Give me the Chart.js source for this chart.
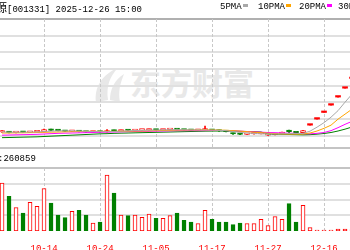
<!DOCTYPE html>
<html>
<head>
<meta charset="utf-8">
<script src="https://cdn.jsdelivr.net/npm/chart.js@4/dist/chart.umd.min.js"></script>
<style>
  body { margin: 0; background: #fff; }
  #wrap { position: relative; width: 350px; height: 250px; overflow: hidden; font-family: "Liberation Mono", monospace; font-size: 9px; color: #000; }
  .abs { position: absolute; white-space: nowrap; line-height: 12px; }
  .cjk { font-family: "Noto Sans CJK SC"; font-size: 11px; }
  .dash { display: inline-block; width: 5px; height: 3px; margin-left: 1px; vertical-align: 2px; }
  canvas { position: absolute; left: 0; }
</style>
</head>
<body>
<div id="wrap">
  <svg class="abs" style="left:92px;top:66px" width="34" height="40" viewBox="0 0 34 40">
    <path d="M4 36 C2 22 10 8 26 2 C18 10 14 20 16 34 Z" fill="#e8e8e8"/>
    <path d="M18 34 C18 24 22 14 32 8 C28 18 26 26 28 36 Z" fill="#e8e8e8"/>
  </svg>
  <div class="abs cjk" style="left:130px;top:62px;font-size:31px;font-weight:bold;color:#e8e8e8;line-height:40px;">东方财富</div>
  <canvas id="price" width="350" height="148" style="top:0"></canvas>
  <canvas id="vol" width="350" height="102" style="top:148px"></canvas>
  <div class="abs" style="left:-37px;top:1px;"><span class="cjk">胜通能源</span>[001331] 2025-12-26 15:00</div>
  <div class="abs" style="left:220px;top:1px;">5PMA<span class="dash" style="background:#a8a8a8"></span></div>
  <div class="abs" style="left:258px;top:1px;">10PMA<span class="dash" style="background:#ffa500"></span></div>
  <div class="abs" style="left:299px;top:1px;">20PMA<span class="dash" style="background:#ff00ff"></span></div>
  <div class="abs" style="left:338px;top:1px;">30PMA<span class="dash" style="background:#008000"></span></div>
  <div class="abs" style="left:0;top:147px;width:350px;height:2px;background:#c4c4c4"></div>
  <div class="abs" style="left:0;top:167px;width:350px;height:2px;background:#c4c4c4"></div>
  <div class="abs" style="left:-2px;top:153px;">:260859</div>
</div>
<script>
// trading days shown (index = candle slot)
const days = ['09-26','09-29','09-30','10-09','10-10','10-13','10-14','10-15','10-16','10-17',
  '10-20','10-21','10-22','10-23','10-24','10-27','10-28','10-29','10-30','10-31',
  '11-03','11-04','11-05','11-06','11-07','11-10','11-11','11-12','11-13','11-14',
  '11-17','11-18','11-19','11-20','11-21','11-24','11-25','11-26','11-27','11-28',
  '12-01','12-02','12-03','12-11','12-12','12-15','12-16','12-17','12-18','12-19','12-22'];
const tickIdx = [6, 14, 22, 30, 38, 46];
const priceGrid = [15, 20, 25, 30, 35, 40, 45, 50];
const volGrid = [100000, 200000, 300000];

const opens = [16.1,16.2,15.9,16.1,16.0,16.15,16.2,16.8,16.6,16.45,
  16.3,16.4,16.2,16.05,16.25,16.1,16.55,16.4,16.65,16.55,
  16.65,16.7,16.85,16.7,16.8,16.9,16.8,16.7,16.6,16.7,
  16.8,16.6,16.4,15.7,15.55,15.4,15.5,15.55,15.15,15.3,
  15.6,16.3,16.0,15.9,18.15,19.97,21.96,24.16,26.58,29.24,32.16];
const closes = [16.35,15.9,16.05,16.0,16.2,16.3,16.8,16.6,16.5,16.3,
  16.4,16.2,16.05,16.2,16.1,16.55,16.4,16.6,16.55,16.7,
  16.75,16.85,16.7,16.8,16.9,16.8,16.7,16.6,16.7,16.8,
  16.6,16.4,16.2,15.5,15.4,15.5,15.6,15.7,15.25,15.5,
  15.95,16.2,15.85,16.5,18.15,19.97,21.96,24.16,26.58,29.24,32.16];
const highs = [16.5,16.3,16.15,16.2,16.3,16.4,17.0,16.95,16.75,16.5,
  16.5,16.45,16.25,16.3,16.3,16.8,16.7,16.7,16.75,16.8,
  16.85,16.95,16.9,16.9,17.0,16.95,16.85,16.75,16.75,17.9,
  16.9,16.65,16.45,15.75,15.6,15.6,15.65,15.8,15.3,15.6,
  16.05,16.7,16.1,16.6,18.15,19.97,21.96,24.16,26.58,29.24,32.16];
const lows = [16.0,15.8,15.85,15.9,15.95,16.05,16.15,16.5,16.4,16.2,
  16.2,16.1,15.95,16.0,16.0,16.05,16.3,16.35,16.5,16.5,
  16.6,16.65,16.6,16.65,16.75,16.7,16.65,16.55,16.55,16.65,
  16.5,16.3,16.1,15.4,15.3,15.35,15.45,15.5,15.1,15.25,
  15.55,15.9,15.75,15.85,18.15,19.97,21.96,24.16,26.58,29.24,32.16];

const ma5 = [16.1,16.05,16.05,16.05,16.1,16.1,16.25,16.35,16.45,16.45,
  16.45,16.4,16.3,16.25,16.2,16.2,16.25,16.35,16.45,16.55,
  16.6,16.65,16.7,16.72,16.78,16.8,16.78,16.75,16.72,16.7,
  16.68,16.6,16.5,16.25,16.0,15.8,15.65,15.55,15.5,15.5,
  15.55,15.6,15.6,15.7,16.35,17.55,18.9,20.55,22.5,25.05,27.45];
const ma10 = [15.8,15.8,15.85,15.85,15.9,15.95,16.0,16.05,16.1,16.15,
  16.2,16.25,16.3,16.3,16.3,16.3,16.3,16.32,16.35,16.38,
  16.4,16.45,16.5,16.55,16.62,16.68,16.7,16.72,16.73,16.74,
  16.72,16.68,16.62,16.5,16.35,16.2,16.05,15.9,15.75,15.6,
  15.5,15.45,15.45,15.5,15.8,16.4,17.2,18.15,19.95,21.45,22.95];
const ma20 = [15.15,15.2,15.25,15.3,15.35,15.4,15.5,15.6,15.7,15.75,
  15.8,15.85,15.9,15.95,16.0,16.05,16.1,16.15,16.2,16.25,
  16.28,16.3,16.35,16.4,16.45,16.5,16.5,16.5,16.5,16.52,
  16.55,16.55,16.52,16.45,16.35,16.25,16.15,16.05,15.95,15.9,
  15.8,15.75,15.7,15.6,15.55,15.7,15.95,16.5,17.4,18.4,19.3];
const ma30 = [14.4,14.45,14.5,14.55,14.6,14.65,14.75,14.85,14.95,15.05,
  15.15,15.25,15.35,15.45,15.55,15.6,15.7,15.75,15.8,15.85,
  15.9,15.95,16.0,16.05,16.1,16.15,16.2,16.25,16.3,16.35,
  16.38,16.4,16.4,16.35,16.3,16.25,16.2,16.1,15.5,15.45,
  15.4,15.35,15.3,15.25,15.3,15.45,15.65,15.95,16.4,16.95,17.6];

const volumes = [304800,220300,148600,114300,182200,156800,269200,177800,101600,85100,
  125100,131400,101600,50800,57100,355600,241300,101600,97800,101600,
  87000,107900,80600,80600,97800,114300,67900,57100,47000,131400,
  74300,57100,57100,40600,50800,47000,47000,74300,34300,91400,
  74300,174000,57100,163200,21600,6400,6300,6500,12700,12700,9500];

const RED = '#ff0000', GREEN = '#008000';
const up = closes.map((c, i) => c >= opens[i]);
const flat = closes.map((c, i) => c === opens[i] && c === highs[i]);

// solid horizontal lines + dashed vertical lines, placed by the scales
const gridLines = {
  id: 'gridLines',
  beforeDatasetsDraw(chart, args, opts) {
    const { ctx, chartArea: a, scales: { x, y } } = chart;
    ctx.save();
    ctx.lineWidth = 2;
    opts.yValues.forEach(v => {
      const py = Math.round(y.getPixelForValue(v));
      ctx.strokeStyle = v === opts.topValue ? '#b0b0b0' : '#e0e0e0';
      ctx.beginPath(); ctx.moveTo(a.left, py); ctx.lineTo(a.right, py); ctx.stroke();
    });
    ctx.lineWidth = 1;
    ctx.strokeStyle = '#c8c8c8';
    ctx.setLineDash([3, 2]);
    tickIdx.forEach(v => {
      const px = Math.round(x.getPixelForValue(v)) + 0.5;
      ctx.beginPath(); ctx.moveTo(px, a.top); ctx.lineTo(px, a.bottom); ctx.stroke();
    });
    ctx.restore();
  }
};

const xScale = (showLabels) => ({
  type: 'linear', min: -0.29, max: 49.71, offset: false,
  afterBuildTicks: s => { s.ticks = tickIdx.map(v => ({ value: v })); },
  afterFit: s => { s.height = showLabels ? 19 : 0; s.paddingLeft = 0; s.paddingRight = 0; },
  grid: { display: false, offset: false },
  border: { display: false },
  ticks: {
    display: showLabels, autoSkip: false, maxRotation: 0, padding: 4,
    color: RED, font: { family: 'Liberation Mono', size: 9 },
    callback: v => days[v]
  }
});

new Chart(document.getElementById('price'), {
  type: 'bar',
  plugins: [gridLines],
  data: {
    datasets: [
      { type: 'line', data: ma5.map((v, i) => ({ x: i, y: v })), borderColor: '#a8a8a8', borderWidth: 1, pointRadius: 0, order: 0 },
      { type: 'line', data: ma10.map((v, i) => ({ x: i, y: v })), borderColor: '#ffa500', borderWidth: 1, pointRadius: 0, order: 0 },
      { type: 'line', data: ma20.map((v, i) => ({ x: i, y: v })), borderColor: '#ff00ff', borderWidth: 1, pointRadius: 0, order: 0 },
      { type: 'line', data: ma30.map((v, i) => ({ x: i, y: v })), borderColor: '#008000', borderWidth: 1, pointRadius: 0, order: 0 },
      { data: opens.map((o, i) => ({ x: i, y: [o, closes[i]] })), barThickness: 5, grouped: false, minBarLength: 1.5,
        backgroundColor: up.map((u, i) => flat[i] ? RED : (u ? '#ffffff' : GREEN)), borderColor: up.map(u => u ? RED : GREEN),
        borderWidth: flat.map(f => f ? 0 : 1), borderSkipped: false, order: 1 },
      { data: lows.map((l, i) => ({ x: i, y: [l, highs[i]] })), barThickness: 1, grouped: false,
        backgroundColor: up.map(u => u ? RED : GREEN), order: 2 }
    ]
  },
  options: {
    responsive: false, animation: false, devicePixelRatio: 1,
    layout: { padding: { top: 19, left: 0, right: 0, bottom: 0 }, autoPadding: false },
    plugins: { legend: { display: false }, tooltip: { enabled: false }, gridLines: { yValues: priceGrid, topValue: 50 } },
    scales: {
      x: xScale(false),
      y: {
        min: 11.3, max: 50,
        afterFit: s => { s.width = 0; },
        grid: { display: false },
        border: { display: false },
        ticks: { display: false }
      }
    }
  }
});

new Chart(document.getElementById('vol'), {
  type: 'bar',
  plugins: [gridLines],
  data: {
    datasets: [{
      data: volumes.map((v, i) => ({ x: i, y: v })), barThickness: 4, grouped: false,
      backgroundColor: up.map(u => u ? '#ffffff' : GREEN), borderColor: up.map(u => u ? RED : GREEN),
      borderWidth: 1, borderSkipped: false, minBarLength: 1
    }]
  },
  options: {
    responsive: false, animation: false, devicePixelRatio: 1,
    layout: { padding: { top: 20, left: 0, right: 0, bottom: 0 }, autoPadding: false },
    plugins: { legend: { display: false }, tooltip: { enabled: false }, gridLines: { yValues: volGrid, topValue: null } },
    scales: {
      x: xScale(true),
      y: {
        min: 0, max: 400000,
        afterFit: s => { s.width = 0; },
        grid: { display: false },
        border: { display: false },
        ticks: { display: false }
      }
    }
  }
});
</script>
</body>
</html>
